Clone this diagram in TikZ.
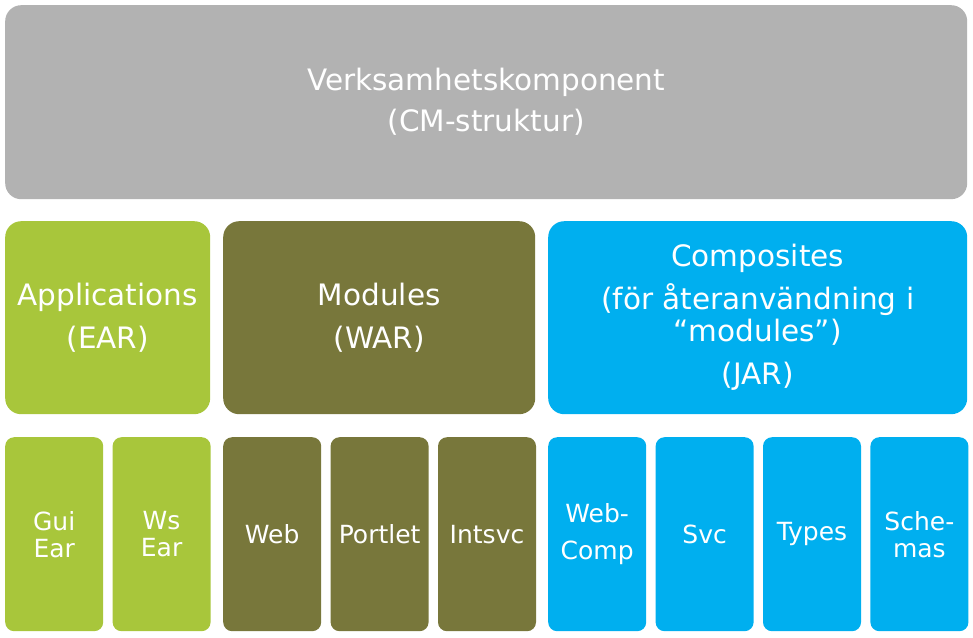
\documentclass[tikz,border=0pt]{standalone}
\usepackage{fontspec}
\setmainfont{DejaVu Sans}
\usetikzlibrary{positioning}
\definecolor{cmgray}{HTML}{B2B2B2}
\definecolor{eargreen}{HTML}{A8C63B}
\definecolor{warolive}{HTML}{78773B}
\definecolor{jarblue}{HTML}{00AFEF}

\begin{document}
\begin{tikzpicture}[x=1pt,y=-1pt,
  blk/.style={rounded corners=16pt,text=white,align=center,inner sep=0pt,
    anchor=north west,font=\fontsize{29.5}{32}\selectfont},
  leaf/.style={blk,rounded corners=9pt,minimum width=98pt,minimum height=194pt,
    font=\fontsize{25}{27}\selectfont}]
\useasboundingbox (0,0) rectangle (973,637);
% top layer
\node[blk,fill=cmgray,minimum width=962pt,minimum height=194pt] (vk) at (5,5)
  {Verksamhetskomponent\\[9pt](CM-struktur)};
% middle layer
\node[blk,fill=eargreen,minimum width=205pt,minimum height=193pt] (app) at (5,221)
  {Applications\\[11pt](EAR)};
\node[blk,fill=warolive,minimum width=312pt,minimum height=193pt] (mod) at (223,221)
  {Modules\\[11pt](WAR)};
\node[blk,fill=jarblue,minimum width=419pt,minimum height=193pt] (comp) at (548,221)
  {Composites\\[10pt](för återanvändning i\\“modules”)\\[11pt](JAR)};
% bottom layer
\node[leaf,fill=eargreen] (gui) at (5,437) {Gui\\Ear};
\node[leaf,fill=eargreen,right=9pt of gui] (ws) {Ws\\Ear};
\node[leaf,fill=warolive] (web) at (223,437) {Web};
\node[leaf,fill=warolive,right=9pt of web] (portlet) {Portlet};
\node[leaf,fill=warolive,right=9pt of portlet] (intsvc) {Intsvc};
\node[leaf,fill=jarblue] (webcomp) at (548,437) {Web-\\[10pt]Comp};
\node[leaf,fill=jarblue,right=9pt of webcomp] (svc) {Svc};
\node[leaf,fill=jarblue,right=9pt of svc] (types) {Types};
\node[leaf,fill=jarblue,right=9pt of types] (schemas) {Sche-\\mas};
\end{tikzpicture}
\end{document}
